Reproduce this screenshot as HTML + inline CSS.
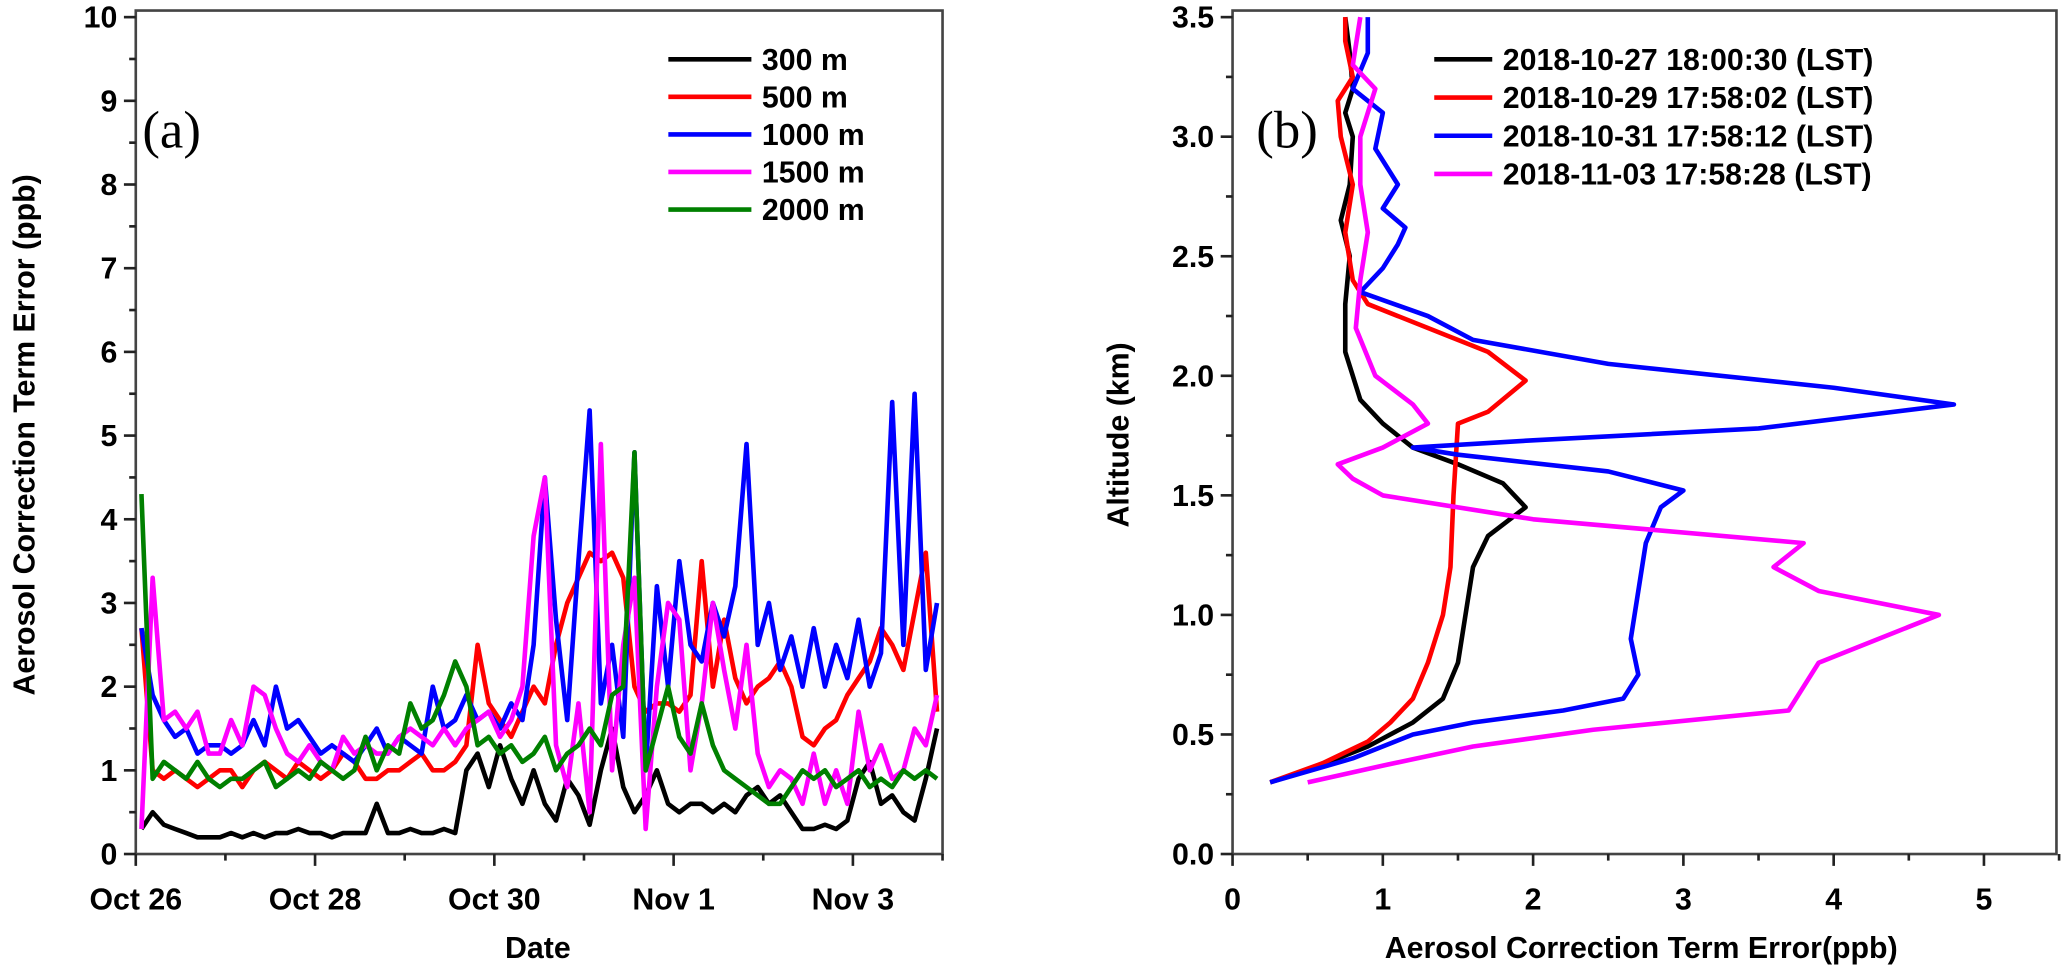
<!DOCTYPE html>
<html><head><meta charset="utf-8"><style>
body{margin:0;background:#fff;}
svg{display:block;}
svg text{font-family:"Liberation Sans",Arial,sans-serif;font-weight:bold;fill:#000;}
</style></head><body>
<svg id="chart" width="2067" height="970" viewBox="0 0 1568 736" preserveAspectRatio="none" xmlns="http://www.w3.org/2000/svg">
<g id="pa"></g>
<g id="pb"></g>
</svg>
<script>
// ---- Panel (a) data ----
const dayStart = 0.0625, dayStep = 0.125; // days since Oct 26
const dateTickLabels = ["Oct 26","Oct 28","Oct 30","Nov 1","Nov 3"];
const dateTickDays = [0,2,4,6,8];
const yTicksA = [0,1,2,3,4,5,6,7,8,9,10];
const seriesNamesA = ["300 m","500 m","1000 m","1500 m","2000 m"];
const seriesColorsA = ["#000000","#ff0000","#0000ff","#ff00ff","#008000"];
const v300 = [0.3,0.5,0.35,0.3,0.25,0.2,0.2,0.2,0.25,0.2, 0.25,0.2,0.25,0.25,0.3,0.25,0.25,0.2,0.25,0.25, 0.25,0.6,0.25,0.25,0.3,0.25,0.25,0.3,0.25,1.0, 1.2,0.8,1.3,0.9,0.6,1.0,0.6,0.4,0.9,0.7, 0.35,1.0,1.5,0.8,0.5,0.7,1.0,0.6,0.5,0.6, 0.6,0.5,0.6,0.5,0.7,0.8,0.6,0.7,0.5,0.3, 0.3,0.35,0.3,0.4,0.9,1.1,0.6,0.7,0.5,0.4, 0.9,1.5];
const v500 = [2.7,1.0,0.9,1.0,0.9,0.8,0.9,1.0,1.0,0.8, 1.0,1.1,1.0,0.9,1.1,1.0,0.9,1.0,1.2,1.1, 0.9,0.9,1.0,1.0,1.1,1.2,1.0,1.0,1.1,1.3, 2.5,1.8,1.6,1.4,1.7,2.0,1.8,2.5,3.0,3.3, 3.6,3.5,3.6,3.3,2.0,1.7,1.8,1.8,1.7,1.9, 3.5,2.0,2.8,2.1,1.8,2.0,2.1,2.3,2.0,1.4, 1.3,1.5,1.6,1.9,2.1,2.3,2.7,2.5,2.2,2.9, 3.6,1.7];
const v1000 = [2.7,1.9,1.6,1.4,1.5,1.2,1.3,1.3,1.2,1.3, 1.6,1.3,2.0,1.5,1.6,1.4,1.2,1.3,1.2,1.1, 1.3,1.5,1.2,1.4,1.3,1.2,2.0,1.5,1.6,1.9, 1.6,1.7,1.5,1.8,1.6,2.5,4.5,2.8,1.6,3.5, 5.3,1.8,2.5,1.4,4.8,1.0,3.2,2.0,3.5,2.5, 2.3,3.0,2.6,3.2,4.9,2.5,3.0,2.2,2.6,2.0, 2.7,2.0,2.5,2.1,2.8,2.0,2.4,5.4,2.5,5.5, 2.2,3.0];
const v1500 = [0.3,3.3,1.6,1.7,1.5,1.7,1.2,1.2,1.6,1.3, 2.0,1.9,1.5,1.2,1.1,1.3,1.1,1.0,1.4,1.2, 1.3,1.2,1.2,1.4,1.5,1.4,1.3,1.5,1.3,1.5, 1.6,1.7,1.4,1.6,2.0,3.8,4.5,1.3,0.8,1.8, 0.5,4.9,1.0,2.5,3.3,0.3,2.0,3.0,2.8,1.0, 1.8,3.0,2.2,1.5,2.5,1.2,0.8,1.0,0.9,0.6, 1.2,0.6,1.0,0.6,1.7,1.0,1.3,0.9,1.0,1.5, 1.3,1.9];
const v2000 = [4.3,0.9,1.1,1.0,0.9,1.1,0.9,0.8,0.9,0.9, 1.0,1.1,0.8,0.9,1.0,0.9,1.1,1.0,0.9,1.0, 1.4,1.0,1.3,1.2,1.8,1.5,1.6,1.9,2.3,2.0, 1.3,1.4,1.2,1.3,1.1,1.2,1.4,1.0,1.2,1.3, 1.5,1.3,1.9,2.0,4.8,1.0,1.5,2.0,1.4,1.2, 1.8,1.3,1.0,0.9,0.8,0.7,0.6,0.6,0.8,1.0, 0.9,1.0,0.8,0.9,1.0,0.8,0.9,0.8,1.0,0.9, 1.0,0.9];

// ---- Panel (b) data ----
const xTicksB = [0,1,2,3,4,5];
const yTicksB = [0,0.5,1,1.5,2,2.5,3,3.5];
const seriesNamesB = ["2018-10-27 18:00:30 (LST)","2018-10-29 17:58:02 (LST)","2018-10-31 17:58:12 (LST)","2018-11-03 17:58:28 (LST)"];
const seriesColorsB = ["#000000","#ff0000","#0000ff","#ff00ff"];
const errBlack = [0.25,0.5,0.9,1.2,1.4,1.5,1.55,1.6,1.7,1.95,1.8,1.5,1.2,1.0,0.85,0.8,0.75,0.75,0.78,0.72,0.78,0.8,0.75,0.8,0.78,0.75];
const altBlack = [0.3,0.35,0.45,0.55,0.65,0.8,1.0,1.2,1.33,1.45,1.55,1.63,1.7,1.8,1.9,2.0,2.1,2.3,2.5,2.65,2.8,3.0,3.1,3.2,3.35,3.5];
const errRed = [0.25,0.6,0.9,1.05,1.2,1.3,1.4,1.45,1.47,1.5,1.7,1.95,1.7,1.3,0.9,0.8,0.75,0.8,0.72,0.7,0.8,0.75,0.75];
const altRed = [0.3,0.38,0.47,0.55,0.65,0.8,1.0,1.2,1.5,1.8,1.85,1.98,2.1,2.2,2.3,2.4,2.6,2.8,3.0,3.15,3.25,3.4,3.5];
const errBlue = [0.25,0.8,1.2,1.6,2.2,2.6,2.7,2.65,2.7,2.75,2.85,3.0,2.5,1.5,1.2,2.0,3.5,4.8,4.0,2.5,1.6,1.3,0.85,1.0,1.1,1.15,1.0,1.1,0.95,1.0,0.8,0.9,0.9];
const altBlue = [0.3,0.4,0.5,0.55,0.6,0.65,0.75,0.9,1.1,1.3,1.45,1.52,1.6,1.67,1.7,1.73,1.78,1.88,1.95,2.05,2.15,2.25,2.35,2.45,2.55,2.62,2.7,2.8,2.95,3.1,3.2,3.35,3.5];
const errMag = [0.5,1.0,1.6,2.4,3.7,3.9,4.5,4.7,3.9,3.6,3.8,2.0,1.0,0.8,0.7,1.0,1.3,1.2,0.95,0.82,0.85,0.9,0.85,0.85,0.95,0.8,0.85];
const altMag = [0.3,0.37,0.45,0.52,0.6,0.8,0.95,1.0,1.1,1.2,1.3,1.4,1.5,1.57,1.63,1.7,1.8,1.88,2.0,2.2,2.4,2.6,2.8,3.0,3.2,3.3,3.5];

const NS="http://www.w3.org/2000/svg";
function mk(parent,tag,attrs,txt){const e=document.createElementNS(NS,tag);for(const k in attrs)e.setAttribute(k,attrs[k]);if(txt!==undefined)e.textContent=txt;parent.appendChild(e);return e;}

// ===== Panel A =====
const pa=document.getElementById('pa');
const AX0=103,AX1=715,AY0=648,AY1=13;
const xA=d=>AX0+d*(AX1-AX0)/9;
const yA=v=>AY0-v*(AY0-AY1)/10;
const seriesA=[v300,v500,v1000,v1500,v2000];
seriesA.forEach((vals,s)=>{
  const pts=vals.map((v,i)=>xA(dayStart+i*dayStep).toFixed(1)+","+yA(v).toFixed(1)).join(" ");
  const pl=mk(pa,'polyline',{points:pts,fill:'none',stroke:seriesColorsA[s],'stroke-width':3.5,'stroke-linejoin':'round'});
  
  
});
mk(pa,'rect',{x:AX0,y:AY1-5,width:AX1-AX0,height:AY0-AY1+5,fill:'none',stroke:'#444','stroke-width':2});
yTicksA.forEach(t=>{
  mk(pa,'line',{x1:AX0-9,x2:AX0,y1:yA(t),y2:yA(t),stroke:'#222','stroke-width':2});
  if(t<10)mk(pa,'line',{x1:AX0-5,x2:AX0,y1:yA(t+0.5),y2:yA(t+0.5),stroke:'#222','stroke-width':2});
  const tx=mk(pa,'text',{x:AX0-14,y:yA(t)+8,'text-anchor':'end','font-size':23},String(t));
  
  
});
for(let d=0;d<=9;d++){mk(pa,'line',{x1:xA(d),x2:xA(d),y1:AY0,y2:AY0+(d%2==0?9:5),stroke:'#222','stroke-width':2});}
dateTickDays.forEach((d,i)=>{
  const tx=mk(pa,'text',{x:xA(d),y:AY0+42,'text-anchor':'middle','font-size':23},dateTickLabels[i]);
  
  
});
const xt=mk(pa,'text',{x:408,y:727,'text-anchor':'middle','font-size':23},'Date');

const yt=mk(pa,'text',{x:0,y:0,'text-anchor':'middle','font-size':23,transform:'translate(26,330) rotate(-90)'},'Aerosol Correction Term Error (ppb)');

const la=mk(pa,'text',{x:108,y:112,'font-size':40,style:'font-family:"Liberation Serif",serif;font-weight:normal'},'(a)');

seriesNamesA.forEach((n,i)=>{
  const g=mk(pa,'g',{});
  
  const y=45+i*28.5;
  mk(g,'line',{x1:507,x2:570,y1:y,y2:y,stroke:seriesColorsA[i],'stroke-width':3.5});
  mk(g,'text',{x:578,y:y+8,'font-size':23},n);
});

// ===== Panel B =====
const pb=document.getElementById('pb');
const BX0=935,BX1=1560,BY0=648,BY1=13;
const xB=v=>BX0+v*114;
const yB=a=>BY0-a*(BY0-BY1)/3.5;
const seriesB=[[errBlack,altBlack],[errRed,altRed],[errBlue,altBlue],[errMag,altMag]];
seriesB.forEach((s,k)=>{
  const pts=s[0].map((v,i)=>xB(v).toFixed(1)+","+yB(s[1][i]).toFixed(1)).join(" ");
  const pl=mk(pb,'polyline',{points:pts,fill:'none',stroke:seriesColorsB[k],'stroke-width':3.5,'stroke-linejoin':'round'});
  
  
});
mk(pb,'rect',{x:BX0,y:BY1-5,width:BX1-BX0,height:BY0-BY1+5,fill:'none',stroke:'#444','stroke-width':2});
yTicksB.forEach(t=>{
  mk(pb,'line',{x1:BX0-9,x2:BX0,y1:yB(t),y2:yB(t),stroke:'#222','stroke-width':2});
  if(t<3.5)mk(pb,'line',{x1:BX0-5,x2:BX0,y1:yB(t+0.25),y2:yB(t+0.25),stroke:'#222','stroke-width':2});
  const tx=mk(pb,'text',{x:BX0-14,y:yB(t)+8,'text-anchor':'end','font-size':23},t.toFixed(1));
  
  
});
xTicksB.forEach(t=>{
  mk(pb,'line',{x1:xB(t),x2:xB(t),y1:BY0,y2:BY0+9,stroke:'#222','stroke-width':2});
  mk(pb,'line',{x1:xB(t+0.5),x2:xB(t+0.5),y1:BY0,y2:BY0+5,stroke:'#222','stroke-width':2});
  const tx=mk(pb,'text',{x:xB(t),y:BY0+42,'text-anchor':'middle','font-size':23},String(t));
  
  
});
const xtb=mk(pb,'text',{x:1245,y:727,'text-anchor':'middle','font-size':23},'Aerosol Correction Term Error(ppb)');

const ytb=mk(pb,'text',{x:0,y:0,'text-anchor':'middle','font-size':23,transform:'translate(856,330) rotate(-90)'},'Altitude (km)');

const lb=mk(pb,'text',{x:953,y:112,'font-size':40,style:'font-family:"Liberation Serif",serif;font-weight:normal'},'(b)');

seriesNamesB.forEach((n,i)=>{
  const g=mk(pb,'g',{});
  
  const y=45+i*29;
  mk(g,'line',{x1:1088,x2:1132,y1:y,y2:y,stroke:seriesColorsB[i],'stroke-width':3.5});
  mk(g,'text',{x:1140,y:y+8,'font-size':23},n);
});
</script>
</body></html>
